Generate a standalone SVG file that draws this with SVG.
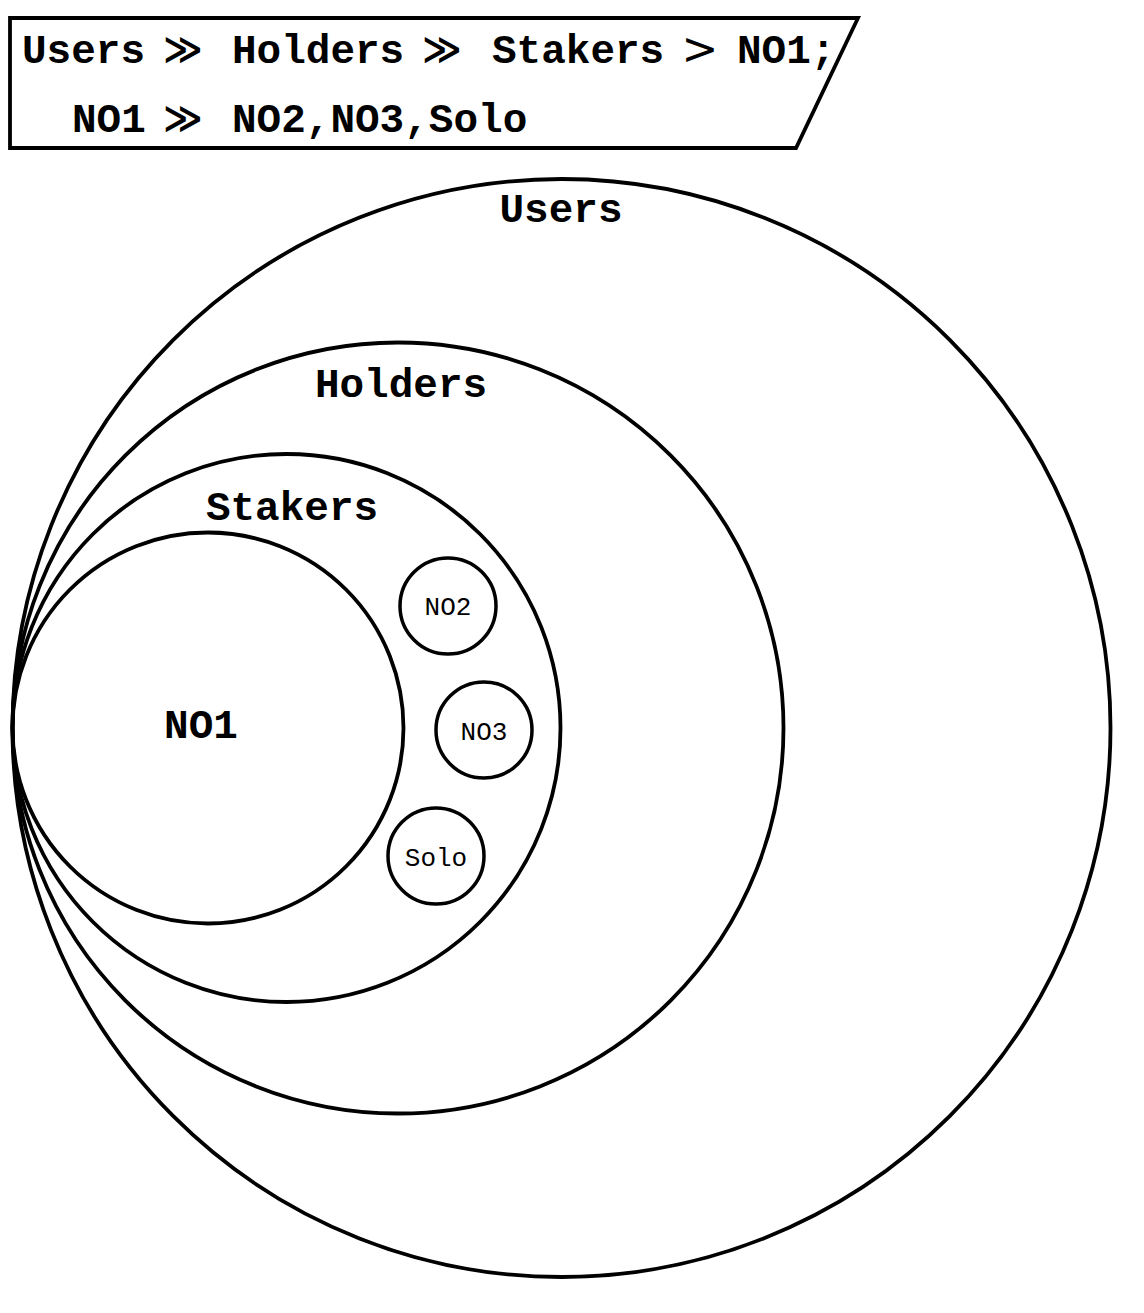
<svg xmlns="http://www.w3.org/2000/svg" width="1144" height="1313" viewBox="0 0 1144 1313">
<style>
.sh{fill:none;stroke:#000;stroke-width:3.8}
.sc{fill:none;stroke:#000;stroke-width:3.5}
.big{font-family:"Liberation Mono","DejaVu Sans Mono",monospace;font-weight:bold;font-size:41px;fill:#000}
.sym{font-family:"DejaVu Sans","Liberation Sans",sans-serif;font-weight:bold;font-size:38px;fill:#000;text-anchor:middle}
.gt{font-family:"DejaVu Sans","Liberation Sans",sans-serif;font-size:44px;fill:#000;text-anchor:middle}
.sm{font-family:"Liberation Mono","DejaVu Sans Mono",monospace;font-size:26px;fill:#000;text-anchor:middle}
.lbl{text-anchor:middle}
</style>
<rect width="1144" height="1313" fill="#fff"/>
<g id="header">
<polygon class="sh" points="10,18 858,18 796,148 10,148"/>
<text class="big" x="22" y="63">Users</text>
<text class="sym" x="183" y="62">≫</text>
<text class="big" x="232" y="63">Holders</text>
<text class="sym" x="442" y="62">≫</text>
<text class="big" x="492" y="63">Stakers</text>
<text class="gt" x="700" y="64">&gt;</text>
<text class="big" x="737" y="63">NO1;</text>
<text class="big" x="72" y="132">NO1</text>
<text class="sym" x="183" y="131">≫</text>
<text class="big" x="232" y="132">NO2,NO3,Solo</text>
</g>
<g id="users">
<circle class="sh" cx="561.5" cy="728" r="549"/>
<text class="big lbl" x="561" y="222">Users</text>
</g>
<g id="holders">
<circle class="sh" cx="398" cy="728" r="385.5"/>
<text class="big lbl" x="401" y="397">Holders</text>
</g>
<g id="stakers">
<circle class="sh" cx="286.5" cy="728" r="274"/>
<text class="big lbl" x="292" y="520">Stakers</text>
</g>
<g id="no1">
<circle class="sh" cx="208" cy="728" r="195.5"/>
<text class="big lbl" x="201" y="738">NO1</text>
</g>
<g id="no2">
<circle class="sc" cx="448" cy="606" r="48"/>
<text class="sm" x="448" y="615">NO2</text>
</g>
<g id="no3">
<circle class="sc" cx="484" cy="730" r="48"/>
<text class="sm" x="484" y="740">NO3</text>
</g>
<g id="solo">
<circle class="sc" cx="436" cy="856" r="48"/>
<text class="sm" x="436" y="866">Solo</text>
</g>
<g id="connectors"></g>
</svg>
